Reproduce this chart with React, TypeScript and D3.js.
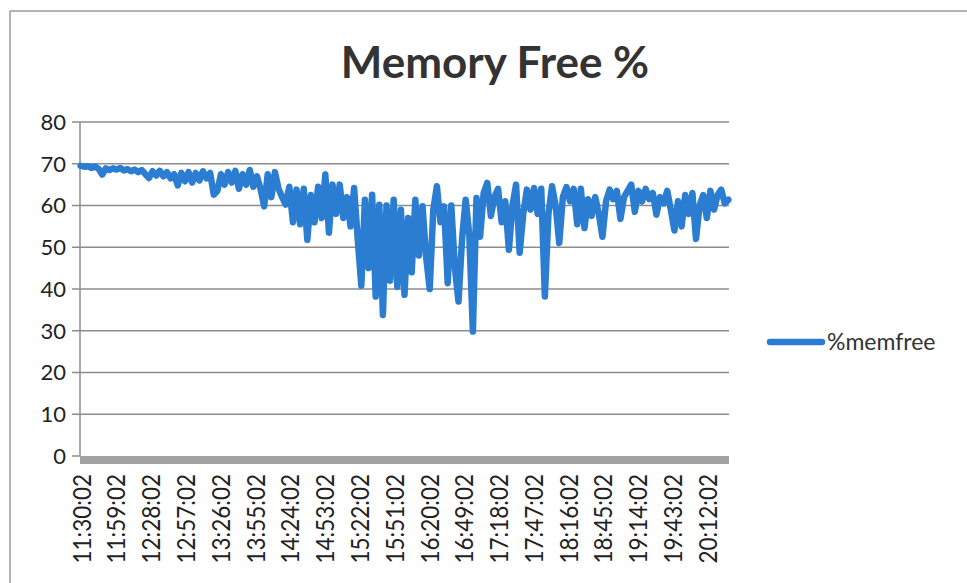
import React from "react";
import * as d3 from "d3";

// ---- data ----
const startTime = "11:30:02";
const sampleStepMinutes = 3;
const lastMinute = 540; // 20:30:02
const memFree: number[] = [
  69.5, 69.3, 69.4, 69.0, 69.3, 68.8, 67.4, 68.9, 68.5, 68.9,
  68.6, 69.0, 68.4, 68.7, 68.2, 68.6, 68.0, 68.5, 67.5, 66.6,
  68.2, 67.2, 68.3, 67.0, 68.0, 66.5, 67.5, 64.8, 67.8, 65.8,
  68.0, 65.5, 67.8, 66.0, 68.2, 66.5, 67.8, 62.6, 63.5, 67.5,
  65.0, 68.0, 65.5, 68.3, 64.0, 67.5, 65.0, 68.5, 64.5, 67.0,
  64.0, 59.8, 67.5, 62.0, 68.0, 64.0, 62.0, 60.2, 64.5, 56.0,
  63.8, 55.5, 64.0, 51.8, 62.5, 56.0, 64.5, 57.0, 67.4, 53.5,
  65.0, 58.0, 65.0, 57.0, 62.0, 55.0, 64.2, 52.0, 40.8, 61.4,
  45.0, 62.6, 38.2, 60.2, 33.8, 60.0, 42.0, 61.4, 40.5, 59.0,
  38.6, 57.0, 44.0, 61.4, 48.0, 59.8, 47.8, 40.0, 59.0, 64.6,
  56.0, 59.8, 41.4, 60.0, 45.0, 37.0, 52.0, 61.4, 53.0, 29.8,
  61.8, 52.5, 63.0, 65.4, 57.5, 62.0, 64.0, 56.0, 61.0, 49.4,
  60.0, 65.0, 48.7, 58.0, 63.8, 59.0, 64.2, 58.0, 64.0, 38.2,
  58.0, 64.6, 60.0, 51.0, 62.0, 64.4, 61.0, 64.0, 55.5, 64.0,
  54.6, 61.5, 57.5, 62.0, 58.0, 52.5, 61.0, 63.8, 61.5, 63.5,
  56.8, 62.0, 63.5, 65.0, 58.5, 63.5, 61.0, 64.0, 61.5, 63.0,
  57.8, 62.0, 60.5, 63.5, 59.0, 54.0, 61.0, 55.0, 62.5, 58.0,
  63.0, 52.0, 60.0, 62.5, 57.0, 63.5, 59.0, 62.5, 63.8, 60.5,
  61.4,
];
const xTickLabels = [
  "11:30:02", "11:59:02", "12:28:02", "12:57:02", "13:26:02", "13:55:02",
  "14:24:02", "14:53:02", "15:22:02", "15:51:02", "16:20:02", "16:49:02",
  "17:18:02", "17:47:02", "18:16:02", "18:45:02", "19:14:02", "19:43:02",
  "20:12:02",
];
const yTicks = [0, 10, 20, 30, 40, 50, 60, 70, 80];
const title = "Memory Free %";
const seriesName = "%memfree";

const toMin = (s: string) => {
  const [h, m] = s.split(":").map(Number);
  return h * 60 + m;
};

export default function App() {
  const W = 967, H = 583;
  const left = 80, right = 729, top = 122, bottom = 456;
  const x = d3.scaleLinear().domain([-0.5, lastMinute + 0.5]).range([left, right]);
  const y = d3.scaleLinear().domain([0, 80]).range([bottom, top]);
  const line = d3
    .line<number>()
    .x((_, i) => x(i * sampleStepMinutes))
    .y((d) => y(d));
  const t0 = toMin(startTime);
  const blue = "#2b7dd2";
  const font = "Lato, 'Open Sans', sans-serif";

  return (
    <svg
      width={W}
      height={H}
      style={{ position: "absolute", left: 0, top: 0, background: "#fff" }}
      fontFamily={font}
    >
      <rect x={0} y={0} width={W} height={H} fill="#fff" />
      {/* chart border */}
      <line x1={10} y1={11} x2={W} y2={11} stroke="#9a9a9a" strokeWidth={1.5} />
      <line x1={10} y1={11} x2={10} y2={H} stroke="#9a9a9a" strokeWidth={1.5} />

      <text x={495} y={78} textAnchor="middle" fontSize={44} fontWeight={700} fill="#333">
        {title}
      </text>

      {/* gridlines + y ticks */}
      {yTicks.map((v) => (
        <g key={v}>
          {v > 0 && (
            <line x1={left} x2={right} y1={y(v)} y2={y(v)} stroke="#8c8c8c" strokeWidth={1.5} />
          )}
          <line x1={72} x2={left} y1={y(v)} y2={y(v)} stroke="#8c8c8c" strokeWidth={1.5} />
          <text
            x={66}
            y={y(v)}
            dy="0.36em"
            textAnchor="end"
            fontSize={22}
            fill="#222"
          >
            {v}
          </text>
        </g>
      ))}
      {/* vertical axis */}
      <line x1={left} x2={left} y1={top} y2={bottom} stroke="#8c8c8c" strokeWidth={1.5} />
      {/* horizontal axis band */}
      <rect x={left} y={bottom} width={right - left} height={8} fill="#a3a3a3" />

      {/* x tick labels */}
      {xTickLabels.map((lab) => {
        const px = x(toMin(lab) - t0);
        return (
          <text
            key={lab}
            transform={`translate(${px},474) rotate(-90) scale(1,1.12)`}
            textAnchor="end"
            dominantBaseline="central"
            fontSize={22.5}
            fill="#222"
          >
            {lab}
          </text>
        );
      })}

      {/* series */}
      <path
        d={line(memFree) || ""}
        fill="none"
        stroke={blue}
        strokeWidth={6.5}
        strokeLinejoin="round"
        strokeLinecap="round"
      />

      {/* legend */}
      <line x1={770} x2={822} y1={342} y2={342} stroke={blue} strokeWidth={6.5} strokeLinecap="round" />
      <text x={827} y={342} dy="0.36em" fontSize={23} fill="#333">
        {seriesName}
      </text>
    </svg>
  );
}
